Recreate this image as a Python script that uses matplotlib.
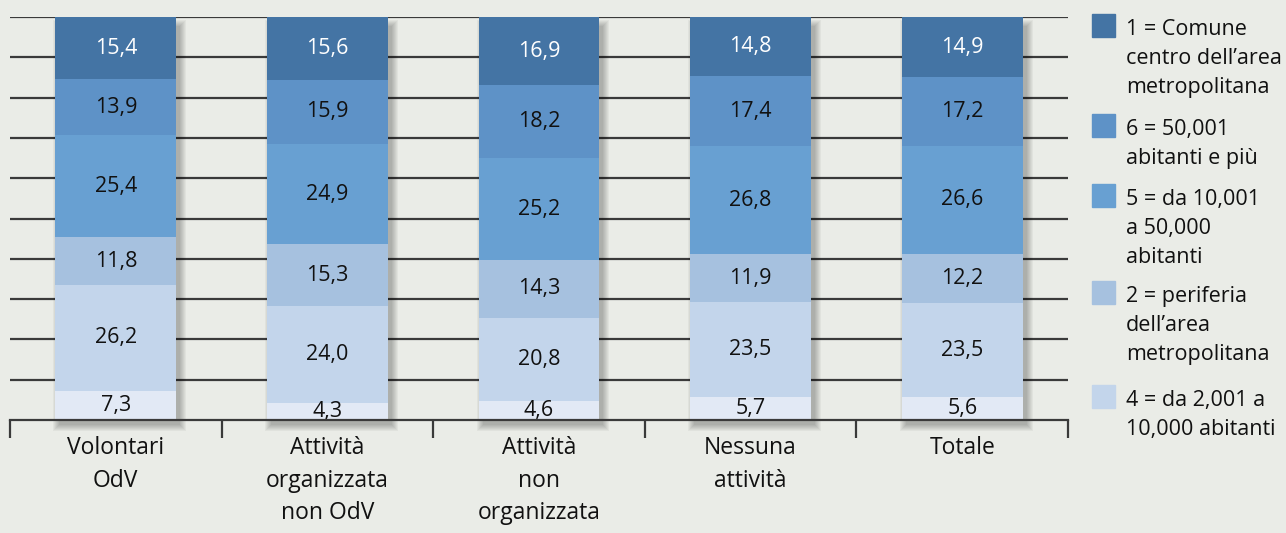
import matplotlib.pyplot as plt
from matplotlib.patches import Rectangle
import numpy as np

categories = ["Volontari\nOdV", "Attività\norganizzata\nnon OdV",
              "Attività\nnon\norganizzata", "Nessuna\nattività", "Totale"]

# segments from bottom to top
seg_3 = [7.3, 4.3, 4.6, 5.7, 5.6]
seg_4 = [26.2, 24.0, 20.8, 23.5, 23.5]
seg_2 = [11.8, 15.3, 14.3, 11.9, 12.2]
seg_5 = [25.4, 24.9, 25.2, 26.8, 26.6]
seg_6 = [13.9, 15.9, 18.2, 17.4, 17.2]
seg_1 = [15.4, 15.6, 16.9, 14.8, 14.9]

segments = [seg_3, seg_4, seg_2, seg_5, seg_6, seg_1]
colors = ["#e2e9f5", "#c3d5eb", "#a6c1df", "#68a0d2", "#5e92c7", "#4474a4"]
text_colors = ["#111111"] * 5 + ["white"]

legend_labels = ["1 = Comune\ncentro dell\u2019area\nmetropolitana",
                 "6 = 50,001\nabitanti e più",
                 "5 = da 10,001\na 50,000\nabitanti",
                 "2 = periferia\ndell\u2019area\nmetropolitana",
                 "4 = da 2,001 a\n10,000 abitanti"]
legend_colors = ["#4474a4", "#5e92c7", "#68a0d2", "#a6c1df", "#c3d5eb"]

bg = "#eaece7"
plt.rcParams['font.family'] = ['Open Sans', 'DejaVu Sans']

W, H = 1286, 533
fig = plt.figure(figsize=(W / 100, H / 100), dpi=100, facecolor=bg)
ax = fig.add_axes([10 / W, (H - 420) / H, 1058 / W, 403 / H])
ax.set_facecolor(bg)
ax.set_xlim(-0.5, 4.5)
ax.set_ylim(0, 100)

x = np.arange(len(categories))
width = 0.57
px_x = 1 / 211.6
px_y = 100 / 403

# grid lines
for g in range(10, 101, 10):
    ax.axhline(g, color="#3a3a3a", lw=1.6, zorder=1)

# soft shadow, shifted right and down
for k in range(7):
    ax.bar(x + 4 * px_x, 100 - 4 * px_y + 2 * k * px_y,
           bottom=-5 * px_y - k * px_y,
           width=width + 2 * k * px_x, color="black", alpha=0.04,
           zorder=2, clip_on=False, linewidth=0)

bottom = np.zeros(len(categories))
for seg, col, tc in zip(segments, colors, text_colors):
    vals = np.array(seg)
    ax.bar(x, vals, bottom=bottom, width=width, color=col, zorder=3, linewidth=0)
    for xi, b, v in zip(x, bottom, vals):
        ax.text(xi, b + v / 2, f"{v:.1f}".replace(".", ","), ha="center",
                va="center", fontsize=15.5, color=tc, zorder=4)
    bottom += vals

for s in ["top", "right", "left"]:
    ax.spines[s].set_visible(False)
ax.spines["bottom"].set_color("#3a3a3a")
ax.spines["bottom"].set_linewidth(1.6)
ax.spines["bottom"].set_zorder(5)
ax.set_yticks([])
ax.set_xticks(np.arange(-0.5, 5, 1))
ax.set_xticklabels([])
ax.tick_params(axis="x", direction="out", length=13, width=1.6, color="#3a3a3a")

for xi, lab in zip(x, categories):
    ax.text(xi, -4.0, lab, ha="center", va="top", fontsize=16.5,
            color="#111111", linespacing=1.48)

# legend drawn manually
tops = [14, 114, 184, 281, 385]
for t, lab, col in zip(tops, legend_labels, legend_colors):
    fig.patches.append(Rectangle((1092 / W, (H - t - 23) / H), 23 / W, 23 / H,
                                 transform=fig.transFigure, color=col))
    fig.text(1126 / W, (H - t - 5) / H, lab, ha="left", va="top",
             fontsize=15.5, color="#111111", linespacing=1.5)

fig.savefig("out.png", dpi=100, facecolor=bg)
